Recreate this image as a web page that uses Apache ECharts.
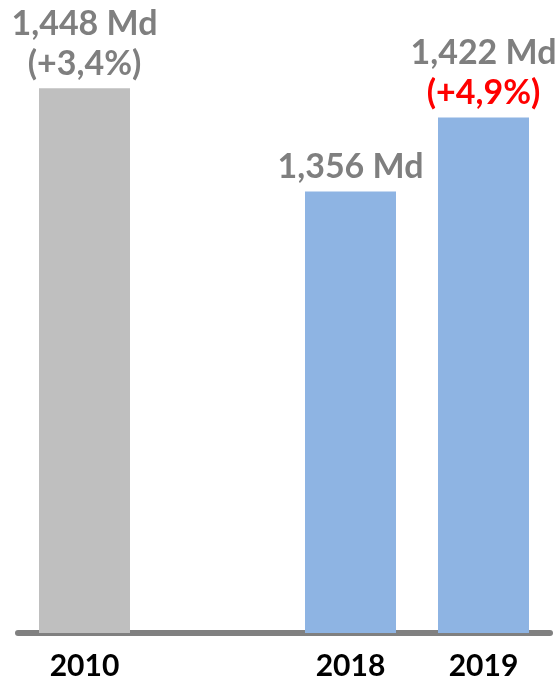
<!DOCTYPE html>
<html>
<head>
<meta charset="utf-8">
<script src="https://cdn.jsdelivr.net/npm/echarts@6/dist/echarts.min.js"></script>
<style>
  html, body { margin: 0; padding: 0; background: #fff; }
  #chart { width: 556px; height: 681px; }
</style>
</head>
<body>
<div id="chart"></div>
<script>
// one empty slot keeps the gap between 2010 and 2018
const years = ['2010', '', '2018', '2019'];
const values = [1448, null, 1356, 1422];
const valueLabels = ['1,448 Md', '', '1,356 Md', '1,422 Md'];
const growthLabels = ['(+3,4%)', '', '', '(+4,9%)'];

const chart = echarts.init(document.getElementById('chart'));

const seriesData = values.map((v, i) => {
  if (v == null) return null;
  const isBase = i === 0;
  const growth = growthLabels[i];
  let text = '{v|' + valueLabels[i] + '}';
  if (growth) text += '\n' + (isBase ? '{g|' : '{r|') + growth + '}';
  return {
    value: v,
    itemStyle: { color: isBase ? '#bfbfbf' : '#8eb4e3' },
    label: { formatter: text },
  };
});

const labelFont = { fontFamily: 'Lato', fontWeight: 'bold', fontSize: 34, lineHeight: 40 };

chart.setOption({
  animation: false,
  grid: { left: 18, right: 6, top: 30, bottom: 45 },
  xAxis: {
    type: 'category',
    data: years,
    axisTick: { show: false },
    axisLine: { lineStyle: { color: '#808080', width: 6 } },
    axisLabel: {
      color: '#000',
      fontFamily: 'Lato',
      fontWeight: 'bold',
      fontSize: 30,
      margin: 18,
    },
  },
  yAxis: {
    type: 'value',
    min: 962,
    max: 1500,
    show: false,
    splitLine: { show: false },
  },
  series: [
    {
      type: 'bar',
      barWidth: 91,
      data: seriesData,
      label: {
        show: true,
        position: 'top',
        distance: 4,
        align: 'center',
        rich: {
          v: { ...labelFont, color: '#7f7f7f' },
          g: { ...labelFont, color: '#7f7f7f' },
          r: { ...labelFont, color: '#ff0000' },
        },
      },
    },
  ],
});
</script>
</body>
</html>
